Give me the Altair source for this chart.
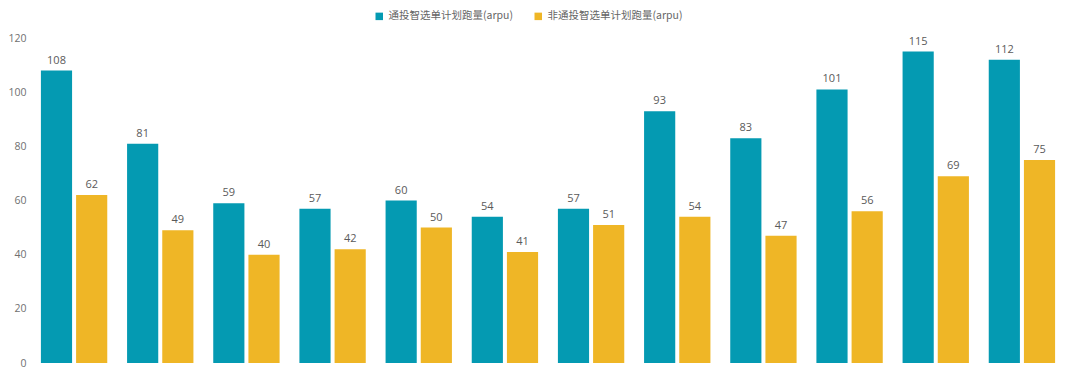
import altair as alt
import pandas as pd

groups = [str(i) for i in range(1, 13)]
series_names = ["通投智选单计划跑量(arpu)", "非通投智选单计划跑量(arpu)"]
teal_values = [108, 81, 59, 57, 60, 54, 57, 93, 83, 101, 115, 112]
yellow_values = [62, 49, 40, 42, 50, 41, 51, 54, 47, 56, 69, 75]
colors = ["#049AB2", "#EFB626"]

rows = []
for g, a, b in zip(groups, teal_values, yellow_values):
    rows.append({"group": g, "series": series_names[0], "value": a})
    rows.append({"group": g, "series": series_names[1], "value": b})
df = pd.DataFrame(rows)

x = alt.X("group:N", sort=groups, axis=None,
          scale=alt.Scale(paddingInner=0.23, paddingOuter=0.115))
xoff = alt.XOffset("series:N", sort=series_names,
                   scale=alt.Scale(paddingInner=0.114, paddingOuter=0))
y = alt.Y("value:Q", scale=alt.Scale(domain=[0, 120], nice=False),
          axis=alt.Axis(values=[0, 20, 40, 60, 80, 100, 120], grid=False, domain=False,
                        ticks=False, labelPadding=5, labelColor="#707070",
                        labelFontSize=10.5, labelFont="Open Sans", title=None))

bars = alt.Chart(df).mark_bar().encode(
    x=x, xOffset=xoff, y=y,
    color=alt.Color("series:N", sort=series_names,
                    scale=alt.Scale(domain=series_names, range=colors),
                    legend=alt.Legend(title=None, orient="none", direction="horizontal",
                                      legendX=343, legendY=-27, symbolType="square",
                                      symbolSize=56, symbolStrokeWidth=0,
                                      labelFontSize=10.5, labelColor="#666666",
                                      labelFont="Noto Sans CJK SC", columnPadding=20,
                                      symbolOffset=0, labelOffset=4)),
)

labels = alt.Chart(df).mark_text(dy=-5, baseline="bottom", fontSize=11,
                                 color="#5A5A5A", font="Open Sans").encode(
    x=x, xOffset=xoff, y=alt.Y("value:Q"), text="value:Q"
)

chart = alt.layer(bars, labels).properties(
    width=1034, height=325,
    autosize=alt.AutoSizeParams(type="none"),
    padding={"left": 23, "top": 30, "right": 0, "bottom": 6},
).configure(background="white").configure_view(stroke=None, strokeWidth=0)

chart.save("out.html", embed_options={"renderer": "svg", "actions": False})
